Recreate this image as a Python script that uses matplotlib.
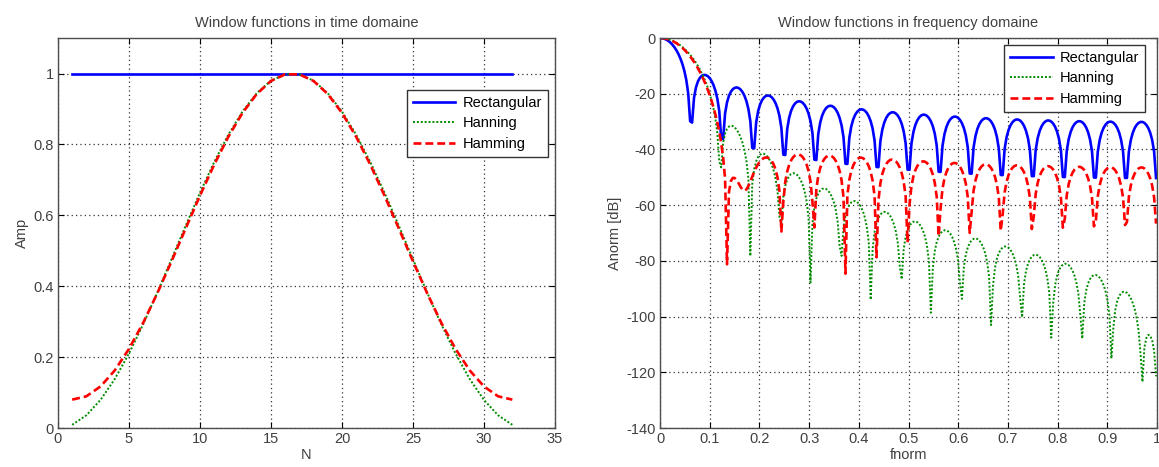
import matplotlib.pyplot as plt
import numpy as np
from matplotlib.ticker import FuncFormatter

plt.rcParams['font.family'] = ['Liberation Sans', 'DejaVu Sans']
plt.rcParams['axes.unicode_minus'] = False

# sample index of the 32-point windows
N = list(range(1, 33))

# window amplitudes
rectangular = [1.0] * 32
hanning = [0.009036, 0.035816, 0.079373, 0.138133, 0.209972, 0.292293, 0.382121, 0.476209,
           0.571157, 0.663534, 0.750000, 0.827430, 0.893026, 0.944418, 0.979746, 0.997736,
           0.997736, 0.979746, 0.944418, 0.893026, 0.827430, 0.750000, 0.663534, 0.571157,
           0.476209, 0.382121, 0.292293, 0.209972, 0.138133, 0.079373, 0.035816, 0.009036]
hamming = [0.080000, 0.089416, 0.117279, 0.162449, 0.223075, 0.296677, 0.380240, 0.470343,
           0.563299, 0.655300, 0.742581, 0.821569, 0.889029, 0.942199, 0.978904, 0.997640,
           0.997640, 0.978904, 0.942199, 0.889029, 0.821569, 0.742581, 0.655300, 0.563299,
           0.470343, 0.380240, 0.296677, 0.223075, 0.162449, 0.117279, 0.089416, 0.080000]

labels = ['Rectangular', 'Hanning', 'Hamming']

# normalised frequency grid (1 = Nyquist) on which the spectra are evaluated
fnorm = (np.arange(256) + 0.5) / 256


def spectrum_db(w):
    # magnitude of the DTFT of the window, normalised to its maximum
    w = np.asarray(w)
    n = np.arange(len(w))
    H = np.exp(-1j * np.pi * np.outer(fnorm, n)) @ w
    mag = np.abs(H)
    return 20 * np.log10(mag / mag.max())


styles = [dict(color=(0, 0, 1), linestyle='-', linewidth=1.9),
          dict(color=(0, 0.55, 0), linestyle=(0, (1, 1)), linewidth=1.4),
          dict(color=(1, 0, 0), linestyle=(0, (3, 1.5)), linewidth=1.9)]

txt = '0.25'
fs = 10.5

fig = plt.figure(figsize=(11.59, 4.67), dpi=100)
ax1 = fig.add_axes([0.050, 0.0835, 0.4288, 0.835])
ax2 = fig.add_axes([0.5695, 0.0835, 0.4288, 0.835])

# time domain
for w, lab, st in zip([rectangular, hanning, hamming], labels, styles):
    ax1.plot(N, w, label=lab, **st)
ax1.set_xlim(0, 35)
ax1.set_ylim(0, 1.1)
ax1.set_xticks(range(0, 36, 5))
ax1.set_yticks([0, 0.2, 0.4, 0.6, 0.8, 1])
ax1.set_title('Window functions in time domaine', fontsize=fs, color=txt, pad=8)
ax1.set_xlabel('N', fontsize=fs, color=txt, labelpad=1)
ax1.set_ylabel('Amp', fontsize=fs, color=txt, labelpad=3)
ax1.legend(loc='upper right', bbox_to_anchor=(0.986, 0.867), fancybox=False,
           edgecolor='0.2', fontsize=fs, handlelength=2.9, borderaxespad=0,
           framealpha=1, labelspacing=0.45, borderpad=0.4, handletextpad=0.5)

# frequency domain
for w, lab, st in zip([rectangular, hanning, hamming], labels, styles):
    ax2.plot(fnorm, spectrum_db(w), label=lab, **st)
ax2.set_xlim(0, 1)
ax2.set_ylim(-140, 0)
ax2.set_xticks(np.arange(0, 1.01, 0.1))
ax2.set_yticks(range(-140, 1, 20))
ax2.set_title('Window functions in frequency domaine', fontsize=fs, color=txt, pad=8)
ax2.set_xlabel('fnorm', fontsize=fs, color=txt, labelpad=1)
ax2.set_ylabel('Anorm [dB]', fontsize=fs, color=txt, labelpad=3)
ax2.legend(loc='upper right', bbox_to_anchor=(0.976, 0.982), fancybox=False,
           edgecolor='0.2', fontsize=fs, handlelength=2.9, borderaxespad=0,
           framealpha=1, labelspacing=0.45, borderpad=0.4, handletextpad=0.5)

fmt = FuncFormatter(lambda v, p: '%g' % round(v, 6))
for ax in (ax1, ax2):
    ax.grid(True, color='0.2', linestyle=(0, (1, 2.5)), linewidth=0.9)
    ax.tick_params(direction='in', top=True, right=True, length=4,
                   labelsize=fs, labelcolor=txt, pad=3)
    ax.xaxis.set_major_formatter(fmt)
    ax.yaxis.set_major_formatter(fmt)
    for sp in ax.spines.values():
        sp.set_color('0.3')
        sp.set_linewidth(1.0)

fig.savefig('out.png', dpi=100)
